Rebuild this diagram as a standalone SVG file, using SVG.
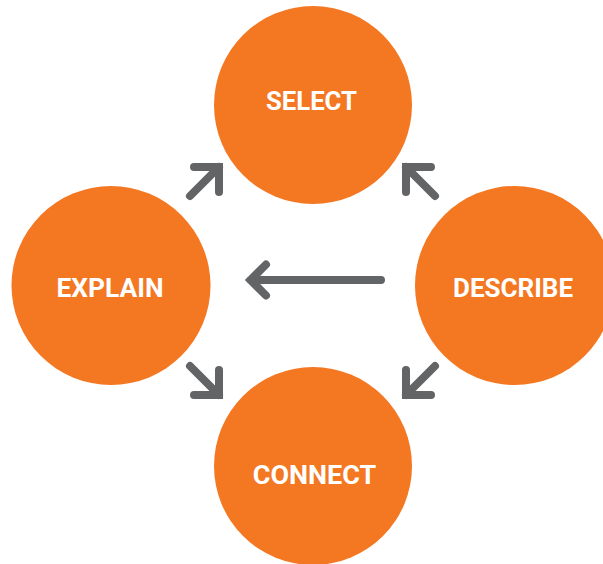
<svg xmlns="http://www.w3.org/2000/svg" width="603" height="564" viewBox="0 0 603 564">
<style>
.node circle{fill:#F47722}
.node text{fill:#FFFFFF;font-family:Roboto,"Liberation Sans",sans-serif;font-weight:700;font-size:25px;text-anchor:middle}
.arrow{fill:none;stroke:#636466;stroke-width:8;stroke-linecap:round;stroke-linejoin:miter}
</style>
<rect width="603" height="564" fill="#FFFFFF"/>
<g id="select" class="node">
<circle cx="313" cy="105" r="99"/>
<text x="311.5" y="110" textLength="91" lengthAdjust="spacingAndGlyphs">SELECT</text>
</g>
<g id="explain" class="node">
<circle cx="111" cy="285.5" r="99.5"/>
<text x="110" y="296.5" textLength="107" lengthAdjust="spacingAndGlyphs">EXPLAIN</text>
</g>
<g id="describe" class="node">
<circle cx="514.5" cy="285.5" r="99.5"/>
<text x="513" y="296.5" textLength="120" lengthAdjust="spacingAndGlyphs">DESCRIBE</text>
</g>
<g id="connect" class="node">
<circle cx="313" cy="466" r="99"/>
<text x="314.5" y="483.5" textLength="123.5" lengthAdjust="spacingAndGlyphs">CONNECT</text>
</g>
<g id="connectors">
<path class="arrow" d="M194,167 L219,167 L219,192 M190,196 L219,167"/>
<path class="arrow" d="M431,167 L406,167 L406,192 M435,196 L406,167"/>
<path class="arrow" d="M194,395 L219,395 L219,370 M190,366 L219,395"/>
<path class="arrow" d="M431,395 L406,395 L406,370 M435,366 L406,395"/>
<path class="arrow" d="M266,264.5 L250.5,280 L266,295.5 M250.5,280 L381,280"/>
</g>
</svg>
